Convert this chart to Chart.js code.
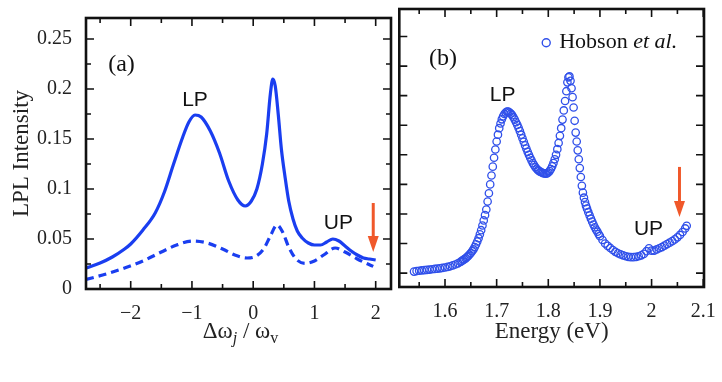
<!DOCTYPE html>
<html>
<head>
<meta charset="utf-8">
<script src="https://cdn.jsdelivr.net/npm/chart.js@4"></script>
<style>
  html, body { margin: 0; padding: 0; background: #fff; }
  #wrap { position: relative; width: 722px; height: 382px; }
  #panelA { position: absolute; left: 0; top: 0; }
  #panelB { position: absolute; left: 394px; top: 0; }
</style>
</head>
<body>
<div id="wrap">
  <canvas id="panelA" width="394" height="382"></canvas>
  <canvas id="panelB" width="328" height="382"></canvas>
</div>
<script>
// ---- panel (a): model curves ----
const solidX = [-2.73, -2.5, -2.3, -2.1, -2.0, -1.8, -1.6, -1.45, -1.3, -1.15, -1.05, -0.95, -0.85, -0.7, -0.55, -0.4, -0.25, -0.13, -0.03,
  0.06, 0.15, 0.22, 0.28, 0.32, 0.36, 0.41, 0.46, 0.52, 0.58, 0.65, 0.72, 0.8, 0.9, 1.0, 1.1, 1.2, 1.3, 1.4, 1.5, 1.6, 1.7, 1.8, 1.9, 2.0];
const solidY = [0.021, 0.026, 0.032, 0.040, 0.045, 0.059, 0.076, 0.097, 0.125, 0.152, 0.167, 0.174, 0.172, 0.158, 0.136, 0.108, 0.089, 0.083, 0.088,
  0.100, 0.125, 0.155, 0.195, 0.210, 0.203, 0.174, 0.140, 0.112, 0.088, 0.070, 0.058, 0.051, 0.046, 0.044, 0.044, 0.047, 0.050, 0.048, 0.043, 0.038, 0.034, 0.031, 0.030, 0.029];
const dashX = [-2.73, -2.4, -2.1, -1.8, -1.5, -1.25, -0.98, -0.75, -0.5, -0.3, -0.1, 0.05, 0.18, 0.28, 0.39, 0.48, 0.58, 0.7, 0.85, 1.0, 1.15, 1.34, 1.5, 1.7, 1.96];
const dashY = [0.0095, 0.015, 0.021, 0.028, 0.037, 0.044, 0.048, 0.046, 0.040, 0.034, 0.031, 0.033, 0.041, 0.053, 0.064, 0.057, 0.042, 0.030, 0.0256, 0.028, 0.034, 0.041, 0.037, 0.030, 0.0226];
const xTicksA = [-2, -1, 0, 1, 2];
const xLabelsA = ['\u22122', '\u22121', '0', '1', '2'];
const yTicksA = [0, 0.05, 0.1, 0.15, 0.2, 0.25];
const yLabelsA = ['0', '0.05', '0.1', '0.15', '0.2', '0.25'];

// ---- panel (b): Hobson et al. measured points ----
const hobsonE = [1.540, 1.545, 1.550, 1.555, 1.560, 1.565, 1.570, 1.575, 1.580, 1.585, 1.590, 1.595, 1.600, 1.605, 1.610, 1.615, 1.620, 1.625, 1.630,
  1.6325, 1.635, 1.6375, 1.640, 1.6425, 1.645, 1.6475, 1.650, 1.6525, 1.655, 1.6575, 1.660, 1.6625, 1.665, 1.6675, 1.670, 1.6725, 1.675, 1.6775, 1.680,
  1.6825, 1.685, 1.6875, 1.690, 1.6925, 1.695, 1.6975, 1.700, 1.7025, 1.705, 1.7075, 1.710, 1.7125, 1.715, 1.7175, 1.720, 1.7225, 1.725, 1.7275, 1.730,
  1.7325, 1.735, 1.7375, 1.740, 1.7425, 1.745, 1.7475, 1.750, 1.7525, 1.755, 1.7575, 1.760, 1.7625, 1.765, 1.7675, 1.770, 1.7725, 1.775, 1.7775, 1.780,
  1.7825, 1.785, 1.7875, 1.790, 1.7925, 1.795, 1.7975, 1.800, 1.8025, 1.805, 1.8075, 1.810, 1.8125, 1.815, 1.8175, 1.820, 1.8225, 1.825, 1.8275, 1.830,
  1.8325, 1.835, 1.837, 1.839, 1.841, 1.843, 1.845, 1.847, 1.849, 1.851, 1.853, 1.855, 1.857, 1.859, 1.861, 1.863, 1.865, 1.867, 1.869, 1.871, 1.873,
  1.875, 1.8775, 1.880, 1.8825, 1.885, 1.8875, 1.890, 1.8925, 1.895, 1.8975, 1.900, 1.905, 1.910, 1.915, 1.920, 1.925, 1.930, 1.935, 1.940, 1.945,
  1.950, 1.955, 1.960, 1.965, 1.970, 1.975, 1.980, 1.985, 1.990, 1.995, 2.000, 2.005, 2.010, 2.015, 2.020, 2.025, 2.030, 2.035, 2.040, 2.045, 2.050,
  2.055, 2.060, 2.065, 2.068];
const hobsonI = [0.05, 0.07, 0.08, 0.09, 0.10, 0.11, 0.12, 0.13, 0.14, 0.15, 0.16, 0.175, 0.19, 0.21, 0.23, 0.26, 0.29, 0.33, 0.38,
  0.41, 0.44, 0.47, 0.50, 0.54, 0.58, 0.63, 0.68, 0.74, 0.80, 0.88, 0.97, 1.07, 1.18, 1.31, 1.45, 1.61, 1.78, 1.96, 2.15,
  2.42, 2.70, 3.00, 3.30, 3.60, 3.90, 4.18, 4.45, 4.68, 4.90, 5.06, 5.20, 5.30, 5.38, 5.43, 5.46, 5.46, 5.43, 5.39, 5.34,
  5.27, 5.19, 5.10, 5.01, 4.91, 4.80, 4.68, 4.56, 4.44, 4.32, 4.21, 4.10, 4.00, 3.90, 3.81, 3.72, 3.65, 3.58, 3.53, 3.48,
  3.45, 3.42, 3.40, 3.38, 3.37, 3.36, 3.37, 3.40, 3.45, 3.52, 3.61, 3.72, 3.85, 4.00, 4.19, 4.40, 4.64, 4.90, 5.19, 5.50,
  5.82, 6.15, 6.45, 6.62, 6.65, 6.50, 6.25, 5.95, 5.60, 5.15, 4.75, 4.45, 4.15, 3.85, 3.55, 3.25, 2.95, 2.72, 2.55, 2.40, 2.28,
  2.18, 2.06, 1.95, 1.84, 1.74, 1.64, 1.55, 1.47, 1.40, 1.32, 1.25, 1.12, 1.00, 0.92, 0.85, 0.78, 0.72, 0.67, 0.63, 0.60,
  0.57, 0.55, 0.54, 0.54, 0.55, 0.57, 0.60, 0.65, 0.74, 0.84, 0.76, 0.76, 0.80, 0.84, 0.88, 0.93, 0.98, 1.03, 1.08, 1.14, 1.21,
  1.29, 1.39, 1.51, 1.60];
const xTicksB = [1.6, 1.7, 1.8, 1.9, 2.0, 2.1];
const xLabelsB = ['1.6', '1.7', '1.8', '1.9', '2', '2.1'];
const yTicksB = [0, 1, 2, 3, 4, 5, 6, 7, 8];

const BLUE = '#1a3ef0';
const SERIF = "'Liberation Serif', 'DejaVu Serif', serif";
const SANS = "'Liberation Sans', Arial, sans-serif";

function pts(xs, ys) { return xs.map((v, i) => ({x: v, y: ys[i]})); }
function steps(a, b, s) { const r = []; for (let v = a; v <= b + 1e-9; v += s) r.push(+v.toFixed(4)); return r; }

// frame with inward ticks on all four sides
const framePlugin = {
  id: 'frame',
  afterDraw(chart, args, opts) {
    const {ctx, chartArea: a, scales} = chart;
    const xs = scales.x, ys = scales.y;
    ctx.save();
    ctx.strokeStyle = '#111';
    ctx.lineWidth = 1.6;
    ctx.beginPath();
    const hx = (v, len) => { const p = xs.getPixelForValue(v); ctx.moveTo(p, a.bottom); ctx.lineTo(p, a.bottom - len); ctx.moveTo(p, a.top); ctx.lineTo(p, a.top + len); };
    const hy = (v, len) => { const p = ys.getPixelForValue(v); ctx.moveTo(a.left, p); ctx.lineTo(a.left + len, p); ctx.moveTo(a.right, p); ctx.lineTo(a.right - len, p); };
    xs.ticks.forEach(t => hx(t.value, 8));
    ys.ticks.forEach(t => hy(t.value, 8));
    (opts.xMinor || []).forEach(v => hx(v, 5));
    (opts.yMinor || []).forEach(v => hy(v, 5));
    ctx.stroke();
    ctx.lineWidth = 2.6;
    ctx.strokeRect(a.left, a.top, a.width, a.height);
    ctx.restore();
  }
};

// labels, arrows, legend, subscripted axis title
const notesPlugin = {
  id: 'notes',
  afterDatasetsDraw(chart, args, opts) {
    const {ctx, scales: {x, y}} = chart;
    ctx.save();
    ctx.textBaseline = 'middle';
    ctx.textAlign = 'center';
    ctx.fillStyle = '#111';
    (opts.texts || []).forEach(t => {
      ctx.font = t.font;
      ctx.fillText(t.text, x.getPixelForValue(t.x), y.getPixelForValue(t.y));
    });
    (opts.arrows || []).forEach(ar => {
      const px = x.getPixelForValue(ar.x), p0 = y.getPixelForValue(ar.y0), p1 = y.getPixelForValue(ar.y1);
      ctx.strokeStyle = ctx.fillStyle = '#f0582a';
      ctx.lineWidth = 3;
      ctx.beginPath(); ctx.moveTo(px, p0); ctx.lineTo(px, p1 - 12); ctx.stroke();
      ctx.beginPath(); ctx.moveTo(px - 5.5, p1 - 16); ctx.lineTo(px + 5.5, p1 - 16); ctx.lineTo(px, p1); ctx.closePath(); ctx.fill();
    });
    if (opts.legend) {
      const L = opts.legend;
      const cx = x.getPixelForValue(L.x), cy = y.getPixelForValue(L.y);
      ctx.strokeStyle = '#3050ea'; ctx.lineWidth = 1.4;
      ctx.beginPath(); ctx.arc(cx, cy, 4, 0, Math.PI * 2); ctx.stroke();
      ctx.fillStyle = '#111'; ctx.textAlign = 'left';
      ctx.font = '22px ' + SERIF;
      ctx.fillText('Hobson ', cx + 13, cy);
      const w = ctx.measureText('Hobson ').width;
      ctx.font = 'italic 22px ' + SERIF;
      ctx.fillText('et al.', cx + 13 + w, cy);
    }
    if (opts.subTitle) {
      // Δω_j / ω_v
      const parts = [['\u0394\u03c9', '23px ' + SERIF, 0], ['j', 'italic 16px ' + SERIF, 7], [' / \u03c9', '23px ' + SERIF, 0], ['v', '16px ' + SERIF, 7]];
      let total = 0;
      parts.forEach(p => { ctx.font = p[1]; total += ctx.measureText(p[0]).width; });
      let px = (x.left + x.right) / 2 - total / 2 + 2;
      const py = x.bottom - 50;
      ctx.textAlign = 'left'; ctx.fillStyle = '#222';
      parts.forEach(p => { ctx.font = p[1]; ctx.fillText(p[0], px, py + p[2]); px += ctx.measureText(p[0]).width; });
    }
    ctx.restore();
  }
};

new Chart(document.getElementById('panelA'), {
  type: 'scatter',
  data: {
    datasets: [
      { data: pts(solidX, solidY), showLine: true, borderColor: BLUE, borderWidth: 3.2, pointRadius: 0, cubicInterpolationMode: 'monotone' },
      { data: pts(dashX, dashY), showLine: true, borderColor: BLUE, borderWidth: 3.2, borderDash: [8, 5], pointRadius: 0, cubicInterpolationMode: 'monotone' }
    ]
  },
  options: {
    responsive: false,
    animation: false,
    layout: { padding: { left: 0, right: 3, top: 9, bottom: 0 } },
    plugins: {
      legend: { display: false },
      tooltip: { enabled: false },
      frame: { xMinor: steps(-2.5, 1.5, 1), yMinor: steps(0.025, 0.225, 0.05) },
      notes: {
        texts: [
          { text: '(a)', x: -2.15, y: 0.224, font: '24px ' + SERIF },
          { text: 'LP', x: -0.95, y: 0.189, font: '21px ' + SANS },
          { text: 'UP', x: 1.39, y: 0.066, font: '21px ' + SANS }
        ],
        arrows: [{ x: 1.96, y0: 0.086, y1: 0.037 }],
        subTitle: true
      }
    },
    scales: {
      x: {
        type: 'linear', min: -2.73, max: 2.25,
        grid: { display: false }, border: { display: false },
        afterBuildTicks: s => { s.ticks = xTicksA.map(v => ({ value: v })); },
        afterFit: s => { s.height = 93; },
        ticks: { callback: (v, i) => xLabelsA[i], color: '#222', font: { family: SERIF, size: 20 }, padding: 5, maxRotation: 0 }
      },
      y: {
        min: 0, max: 0.271,
        grid: { display: false }, border: { display: false },
        afterBuildTicks: s => { s.ticks = yTicksA.map(v => ({ value: v })); },
        afterFit: s => { s.width = 86; },
        ticks: { callback: (v, i) => yLabelsA[i], color: '#222', font: { family: SERIF, size: 20 }, padding: 6 },
        title: { display: true, text: 'LPL Intensity', color: '#222', font: { family: SERIF, size: 23 }, padding: { top: 8 } }
      }
    }
  },
  plugins: [framePlugin, notesPlugin]
});

new Chart(document.getElementById('panelB'), {
  type: 'scatter',
  data: {
    datasets: [
      { data: pts(hobsonE, hobsonI), borderColor: '#3050ea', borderWidth: 1.3, backgroundColor: 'rgba(255,255,255,0)', pointRadius: 3.7 }
    ]
  },
  options: {
    responsive: false,
    animation: false,
    layout: { padding: { left: 0, right: 18, top: 9, bottom: 0 } },
    plugins: {
      legend: { display: false },
      tooltip: { enabled: false },
      frame: { xMinor: steps(1.55, 2.05, 0.1) },
      notes: {
        texts: [
          { text: '(b)', x: 1.596, y: 7.25, font: '24px ' + SERIF },
          { text: 'LP', x: 1.7115, y: 6.03, font: '21px ' + SANS },
          { text: 'UP', x: 1.994, y: 1.5, font: '21px ' + SANS }
        ],
        arrows: [{ x: 2.054, y0: 3.59, y1: 1.9 }],
        legend: { x: 1.796, y: 7.79 }
      }
    },
    scales: {
      x: {
        type: 'linear', min: 1.5115, max: 2.1015,
        grid: { display: false }, border: { display: false },
        afterBuildTicks: s => { s.ticks = xTicksB.map(v => ({ value: v })); },
        afterFit: s => { s.height = 95; },
        ticks: { callback: (v, i) => xLabelsB[i], color: '#222', font: { family: SERIF, size: 20 }, padding: 5, maxRotation: 0 },
        title: { display: true, text: 'Energy (eV)', color: '#222', font: { family: SERIF, size: 23 }, padding: { bottom: 36 } }
      },
      y: {
        min: -0.47, max: 8.93,
        grid: { display: false }, border: { display: false },
        afterBuildTicks: s => { s.ticks = yTicksB.map(v => ({ value: v })); },
        afterFit: s => { s.width = 3; },
        ticks: { display: false }
      }
    }
  },
  plugins: [framePlugin, notesPlugin]
});
</script>
</body>
</html>
